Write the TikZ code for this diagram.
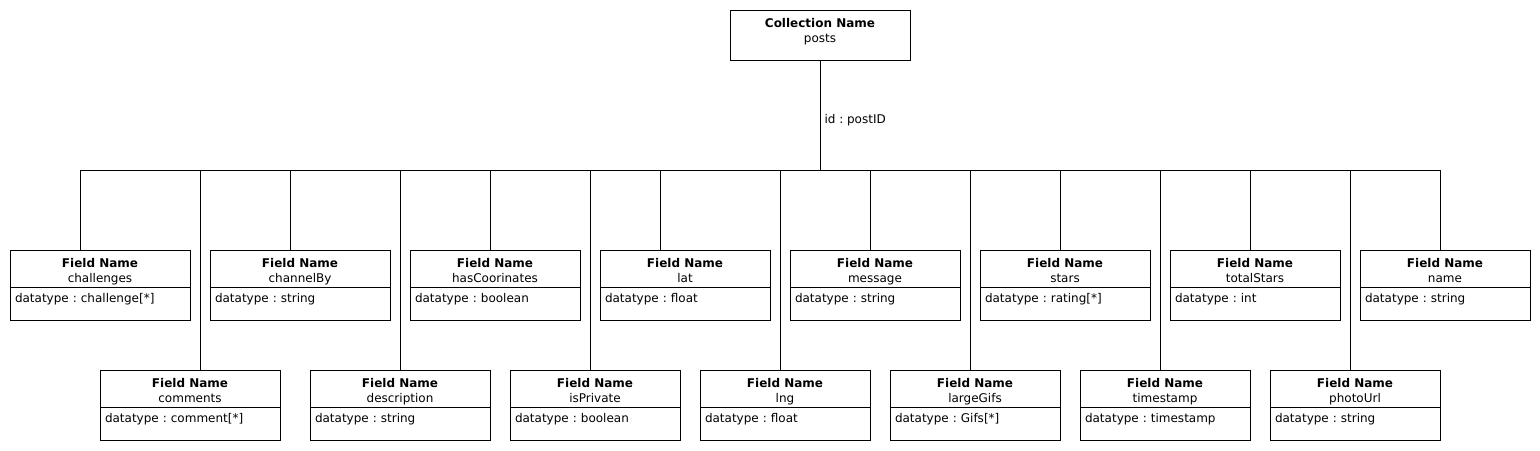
\documentclass[tikz,border=0pt]{standalone}
\usepackage{fontspec}
\setmainfont{DejaVu Sans}
\usetikzlibrary{positioning}
\frenchspacing

\begin{document}
\begin{tikzpicture}[x=1pt, y=-1pt, line width=1pt, node distance=20pt,
  font=\fontsize{12pt}{15pt}\selectfont,
  collection/.style={draw, rectangle, minimum width=180pt, inner sep=0pt, outer sep=0pt, align=center, text height=32pt, text depth=18pt},
  fieldhead/.style={draw, rectangle, minimum width=#1, inner sep=0pt, outer sep=0pt, align=center, text height=32pt, text depth=5pt},
  fieldbody/.style={draw, rectangle, text width=#1, inner xsep=5pt, inner ysep=0pt, outer sep=0pt, align=left, text height=15.2pt, text depth=17.8pt}]
  \useasboundingbox (0,0) rectangle (1540,450);

  % collection
  \node[collection, anchor=north west] (posts) at (730,10) {\textbf{Collection Name}\\posts};

  % upper row of fields
  \node[fieldhead=180pt, anchor=north west] (challenges) at (10,250) {\textbf{Field Name}\\challenges};
  \node[fieldhead=180pt, right=of challenges] (channelBy) {\textbf{Field Name}\\channelBy};
  \node[fieldhead=170pt, right=of channelBy] (hasCoorinates) {\textbf{Field Name}\\hasCoorinates};
  \node[fieldhead=170pt, right=of hasCoorinates] (lat) {\textbf{Field Name}\\lat};
  \node[fieldhead=170pt, right=of lat] (message) {\textbf{Field Name}\\message};
  \node[fieldhead=170pt, right=of message] (stars) {\textbf{Field Name}\\stars};
  \node[fieldhead=170pt, right=of stars] (totalStars) {\textbf{Field Name}\\totalStars};
  \node[fieldhead=170pt, right=of totalStars] (name) {\textbf{Field Name}\\name};

  \node[fieldbody=170pt, below=0pt of challenges] (challenges-type) {datatype : challenge[*]};
  \node[fieldbody=170pt, below=0pt of channelBy] (channelBy-type) {datatype : string};
  \node[fieldbody=160pt, below=0pt of hasCoorinates] (hasCoorinates-type) {datatype : boolean};
  \node[fieldbody=160pt, below=0pt of lat] (lat-type) {datatype : float};
  \node[fieldbody=160pt, below=0pt of message] (message-type) {datatype : string};
  \node[fieldbody=160pt, below=0pt of stars] (stars-type) {datatype : rating[*]};
  \node[fieldbody=160pt, below=0pt of totalStars] (totalStars-type) {datatype : int};
  \node[fieldbody=160pt, below=0pt of name] (name-type) {datatype : string};

  % lower row of fields
  \node[fieldhead=180pt, anchor=north west] (comments) at (100,370) {\textbf{Field Name}\\comments};
  \node[fieldhead=180pt, right=30pt of comments] (description) {\textbf{Field Name}\\description};
  \node[fieldhead=170pt, right=of description] (isPrivate) {\textbf{Field Name}\\isPrivate};
  \node[fieldhead=170pt, right=of isPrivate] (lng) {\textbf{Field Name}\\lng};
  \node[fieldhead=170pt, right=of lng] (largeGifs) {\textbf{Field Name}\\largeGifs};
  \node[fieldhead=170pt, right=of largeGifs] (timestamp) {\textbf{Field Name}\\timestamp};
  \node[fieldhead=170pt, right=of timestamp] (photoUrl) {\textbf{Field Name}\\photoUrl};

  \node[fieldbody=170pt, below=0pt of comments] (comments-type) {datatype : comment[*]};
  \node[fieldbody=170pt, below=0pt of description] (description-type) {datatype : string};
  \node[fieldbody=160pt, below=0pt of isPrivate] (isPrivate-type) {datatype : boolean};
  \node[fieldbody=160pt, below=0pt of lng] (lng-type) {datatype : float};
  \node[fieldbody=160pt, below=0pt of largeGifs] (largeGifs-type) {datatype : Gifs[*]};
  \node[fieldbody=160pt, below=0pt of timestamp] (timestamp-type) {datatype : timestamp};
  \node[fieldbody=160pt, below=0pt of photoUrl] (photoUrl-type) {datatype : string};

  % connectors
  \coordinate (bus) at (820,170);
  \draw (posts) -- node[pos=0.55, anchor=west, inner sep=0pt, xshift=4pt] (idLabel) {id : postID} (bus);
  \foreach \f/\x in {challenges/80, comments/200, channelBy/290, description/400,
                     hasCoorinates/490, isPrivate/590, lat/660, lng/780, message/870,
                     largeGifs/970, stars/1060, timestamp/1160, totalStars/1250,
                     photoUrl/1350, name/1440} {
    \coordinate (j-\f) at (\x,170);
    \draw (j-\f) -- (j-\f |- \f.north);
  }
  \draw (j-challenges) -- (j-name);
\end{tikzpicture}
\end{document}
